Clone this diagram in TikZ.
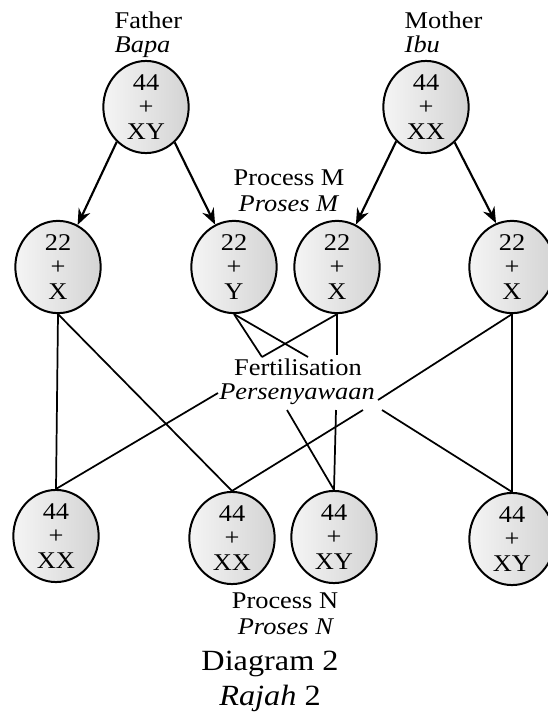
\documentclass[tikz,border=0pt]{standalone}
\usepackage{fontspec}
\setmainfont{Liberation Serif}[FakeStretch=1.1]
\usetikzlibrary{arrows.meta,shapes.geometric}

\begin{document}
\begin{tikzpicture}[x=0.75pt, y=-0.75pt,
    font=\fontsize{18}{18}\selectfont,
    chromcell/.style={ellipse, draw, line width=1.5pt, left color=gray!8, right color=gray!34,
        minimum width=64pt, minimum height=59pt, inner sep=0pt, align=center,
        font=\fontsize{18}{18.5}\selectfont},
    linkline/.style={line width=1.3pt},
    arrline/.style={->, >={Stealth[length=12pt, width=9.5pt, inset=4pt]}, line width=1.6pt}]
    \useasboundingbox (0,0) rectangle (547,715);

    % Parents and their labels
    \node[anchor=base west] (fatherlbl) at (110,28) {Father};
    \node[anchor=base west] (bapalbl) at (110,52) {\textit{Bapa}};
    \node[anchor=base west] (motherlbl) at (400,28) {Mother};
    \node[anchor=base west] (ibulbl) at (400,52) {\textit{Ibu}};
    \node[chromcell] (father) at (146,107) {44\\+\\XY};
    \node[chromcell] (mother) at (426,107) {44\\+\\XX};

    % Gametes
    \node[anchor=base] (procMlbl) at (289,185) {Process M};
    \node[anchor=base] (prosMlbl) at (289,211) {\textit{Proses M}};
    \node[chromcell] (gamA) at (58,267) {22\\+\\X};
    \node[chromcell] (gamB) at (234,267) {22\\+\\Y};
    \node[chromcell] (gamC) at (337,267) {22\\+\\X};
    \node[chromcell] (gamD) at (512,267) {22\\+\\X};

    % Process M arrows, attached to anchors
    \draw[arrline] (father.-130) -- (gamA.65);
    \draw[arrline] (father.-51) -- (gamB.114);
    \draw[arrline] (mother.-131) -- (gamC.66);
    \draw[arrline] (mother.-51) -- (gamD.110);

    % Fertilisation label and the ends of the lines around it
    \node[anchor=base] (fertlbl) at (298,375) {Fertilisation};
    \node[anchor=base] (perslbl) at (297,399) {\textit{Persenyawaan}};
    \coordinate (fertTL) at (262,357);
    \coordinate (fertTR) at (308,357);
    \coordinate (fertTM) at (337,355);
    \coordinate (fertRE) at (378,400);
    \coordinate (fertBL) at (218,393);
    \coordinate (fertBY) at (287,410);
    \coordinate (fertBM) at (336,410);
    \coordinate (fertBR) at (363,410);
    \coordinate (fertBX) at (382,410);

    % Offspring
    \node[chromcell] (offA) at (56,536) {44\\+\\XX};
    \node[chromcell] (offB) at (232,538) {44\\+\\XX};
    \node[chromcell] (offC) at (334,537) {44\\+\\XY};
    \node[chromcell] (offD) at (512,539) {44\\+\\XY};
    \node[anchor=base] (procNlbl) at (285,608) {Process N};
    \node[anchor=base] (prosNlbl) at (286,634) {\textit{Proses N}};

    % Lines from gametes to offspring
    \draw[linkline] (gamA.south) -- (offA.north);
    \draw[linkline] (gamA.south) -- (offB.north);
    \draw[linkline] (gamB.south) -- (fertTL);
    \draw[linkline] (gamB.south) -- (fertTR);
    \draw[linkline] (gamC.south) -- (fertTL);
    \draw[linkline] (gamC.south) -- (fertTM);
    \draw[linkline] (gamD.south) -- (fertRE);
    \draw[linkline] (gamD.south) -- (offD.north);
    \draw[linkline] (fertBL) -- (offA.north);
    \draw[linkline] (fertBR) -- (offB.north);
    \draw[linkline] (fertBY) -- (offC.north);
    \draw[linkline] (fertBM) -- (offC.north);
    \draw[linkline] (fertBX) -- (offD.north);

    % Caption
    \node[anchor=base, font=\fontsize{22}{22}\selectfont] (diaglbl) at (270,670) {Diagram 2};
    \node[anchor=base, font=\fontsize{22}{22}\selectfont] (rajahlbl) at (270,705) {\textit{Rajah} 2};
\end{tikzpicture}
\end{document}
